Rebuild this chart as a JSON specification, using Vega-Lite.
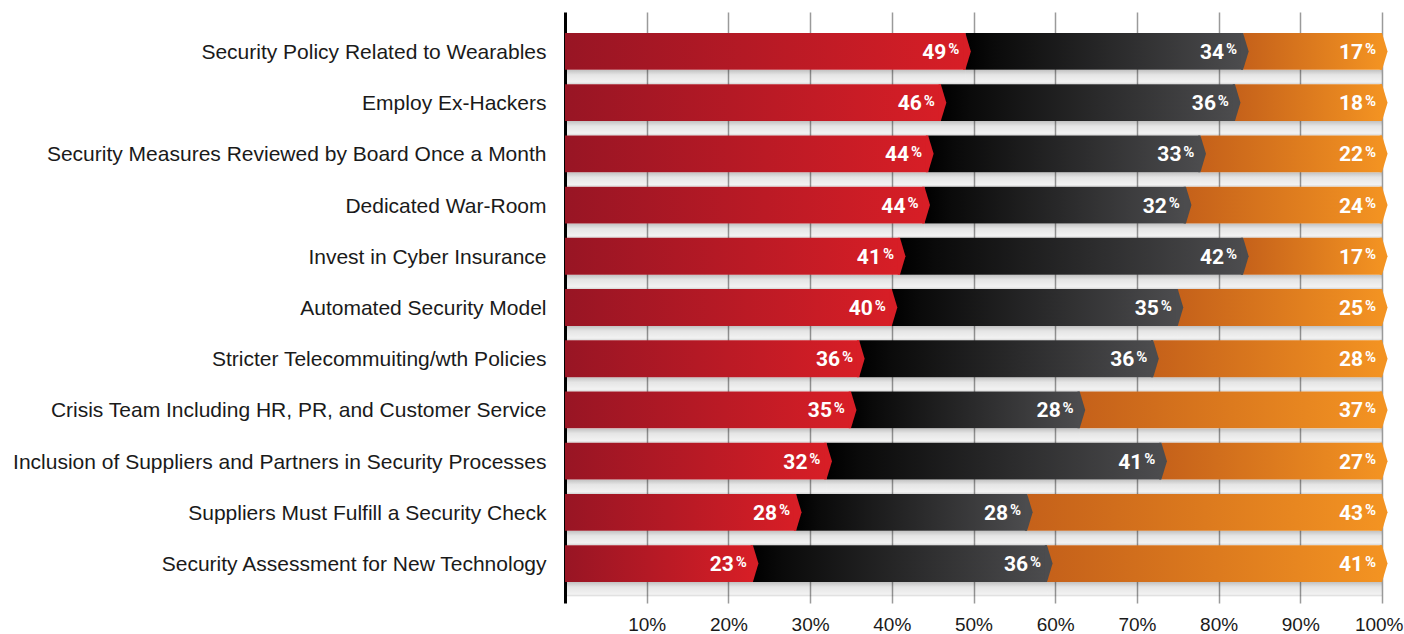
{
  "$schema": "https://vega.github.io/schema/vega-lite/v6.json",
  "width": 817,
  "height": 591,
  "autosize": {"type": "none"},
  "padding": {"left": 565, "top": 12, "right": 22, "bottom": 31},
  "background": "white",
  "config": {"view": {"stroke": null}},
  "data": {
    "values": [
      {"category": "Security Policy Related to Wearables", "segment": "Segment 1", "value": 49},
      {"category": "Security Policy Related to Wearables", "segment": "Segment 2", "value": 34},
      {"category": "Security Policy Related to Wearables", "segment": "Segment 3", "value": 17},
      {"category": "Employ Ex-Hackers", "segment": "Segment 1", "value": 46},
      {"category": "Employ Ex-Hackers", "segment": "Segment 2", "value": 36},
      {"category": "Employ Ex-Hackers", "segment": "Segment 3", "value": 18},
      {"category": "Security Measures Reviewed by Board Once a Month", "segment": "Segment 1", "value": 44},
      {"category": "Security Measures Reviewed by Board Once a Month", "segment": "Segment 2", "value": 33},
      {"category": "Security Measures Reviewed by Board Once a Month", "segment": "Segment 3", "value": 22},
      {"category": "Dedicated War-Room", "segment": "Segment 1", "value": 44},
      {"category": "Dedicated War-Room", "segment": "Segment 2", "value": 32},
      {"category": "Dedicated War-Room", "segment": "Segment 3", "value": 24},
      {"category": "Invest in Cyber Insurance", "segment": "Segment 1", "value": 41},
      {"category": "Invest in Cyber Insurance", "segment": "Segment 2", "value": 42},
      {"category": "Invest in Cyber Insurance", "segment": "Segment 3", "value": 17},
      {"category": "Automated Security Model", "segment": "Segment 1", "value": 40},
      {"category": "Automated Security Model", "segment": "Segment 2", "value": 35},
      {"category": "Automated Security Model", "segment": "Segment 3", "value": 25},
      {"category": "Stricter Telecommuiting/wth Policies", "segment": "Segment 1", "value": 36},
      {"category": "Stricter Telecommuiting/wth Policies", "segment": "Segment 2", "value": 36},
      {"category": "Stricter Telecommuiting/wth Policies", "segment": "Segment 3", "value": 28},
      {"category": "Crisis Team Including HR, PR, and Customer Service", "segment": "Segment 1", "value": 35},
      {"category": "Crisis Team Including HR, PR, and Customer Service", "segment": "Segment 2", "value": 28},
      {"category": "Crisis Team Including HR, PR, and Customer Service", "segment": "Segment 3", "value": 37},
      {"category": "Inclusion of Suppliers and Partners in Security Processes", "segment": "Segment 1", "value": 32},
      {"category": "Inclusion of Suppliers and Partners in Security Processes", "segment": "Segment 2", "value": 41},
      {"category": "Inclusion of Suppliers and Partners in Security Processes", "segment": "Segment 3", "value": 27},
      {"category": "Suppliers Must Fulfill a Security Check", "segment": "Segment 1", "value": 28},
      {"category": "Suppliers Must Fulfill a Security Check", "segment": "Segment 2", "value": 28},
      {"category": "Suppliers Must Fulfill a Security Check", "segment": "Segment 3", "value": 43},
      {"category": "Security Assessment for New Technology", "segment": "Segment 1", "value": 23},
      {"category": "Security Assessment for New Technology", "segment": "Segment 2", "value": 36},
      {"category": "Security Assessment for New Technology", "segment": "Segment 3", "value": 41}
    ]
  },
  "transform": [
    {"stack": "value", "groupby": ["category"], "sort": [{"field": "segment", "order": "ascending"}], "offset": "normalize", "as": ["x0", "x1"]}
  ],
  "encoding": {
    "y": {
      "field": "category",
      "type": "nominal",
      "sort": null,
      "scale": {"paddingInner": 0.28, "paddingOuter": 0.41},
      "axis": {
        "title": null,
        "ticks": false,
        "grid": false,
        "domain": true,
        "domainColor": "#000000",
        "domainWidth": 3,
        "labelPadding": 19,
        "labelLimit": 0,
        "labelFont": "Liberation Sans",
        "labelFontSize": 21,
        "labelColor": "#1a1a1a",
        "labelOffset": 1.5
      }
    }
  },
  "layer": [
    {
      "mark": {
        "type": "bar",
        "height": 14.3,
        "yOffset": 25.6,
        "fill": {
          "gradient": "linear", "x1": 0, "y1": 0, "x2": 0, "y2": 1,
          "stops": [
            {"offset": 0, "color": "rgba(0,0,0,0.24)"},
            {"offset": 0.35, "color": "rgba(0,0,0,0.1)"},
            {"offset": 0.85, "color": "rgba(0,0,0,0.05)"},
            {"offset": 1, "color": "rgba(0,0,0,0.16)"}
          ]
        }
      },
      "encoding": {
        "x": {
          "field": "x0",
          "type": "quantitative",
          "scale": {"domain": [0, 1], "nice": false},
          "axis": {
            "title": null,
            "values": [0.1, 0.2, 0.3, 0.4, 0.5, 0.6, 0.7, 0.8, 0.9, 1],
            "labelExpr": "round(datum.value * 100) + '%'",
            "domain": false,
            "ticks": false,
            "grid": true,
            "gridColor": "#9a9a9a",
            "gridWidth": 1.5,
            "labelPadding": 12,
            "labelFont": "Liberation Sans",
            "labelFontSize": 19,
            "labelColor": "#1a1a1a",
            "labelFlush": true,
            "labelFlushOffset": 21,
            "labelOverlap": false
          }
        },
        "x2": {"field": "x1"}
      }
    },
    {
      "transform": [{"filter": "datum.segment === 'Segment 1'"}],
      "mark": {
        "type": "bar",
        "fill": {
          "gradient": "linear", "x1": 0, "y1": 0, "x2": 1, "y2": 0,
          "stops": [
            {"offset": 0, "color": "#981524"},
            {"offset": 1, "color": "#d71e26"}
          ]
        }
      },
      "encoding": {
        "x": {"field": "x0", "type": "quantitative"},
        "x2": {"field": "x1"}
      }
    },
    {
      "transform": [{"filter": "datum.segment === 'Segment 2'"}],
      "mark": {
        "type": "bar",
        "fill": {
          "gradient": "linear", "x1": 0, "y1": 0, "x2": 1, "y2": 0,
          "stops": [
            {"offset": 0, "color": "#000000"},
            {"offset": 0.1, "color": "#0a0a0a"},
            {"offset": 1, "color": "#4c4c4e"}
          ]
        }
      },
      "encoding": {
        "x": {"field": "x0", "type": "quantitative"},
        "x2": {"field": "x1"}
      }
    },
    {
      "transform": [{"filter": "datum.segment === 'Segment 3'"}],
      "mark": {
        "type": "bar",
        "fill": {
          "gradient": "linear", "x1": 0, "y1": 0, "x2": 1, "y2": 0,
          "stops": [
            {"offset": 0, "color": "#c5611a"},
            {"offset": 1, "color": "#f39322"}
          ]
        }
      },
      "encoding": {
        "x": {"field": "x0", "type": "quantitative"},
        "x2": {"field": "x1"}
      }
    },
    {
      "mark": {
        "type": "point",
        "filled": true,
        "opacity": 1,
        "strokeWidth": 0,
        "size": 1360,
        "shape": "M-0.12,-1L0,-1L0.3,0L0,1L-0.12,1Z"
      },
      "encoding": {
        "x": {"field": "x1", "type": "quantitative"},
        "color": {
          "field": "segment",
          "type": "nominal",
          "scale": {"domain": ["Segment 1", "Segment 2", "Segment 3"], "range": ["#d71e26", "#4c4c4e", "#f39322"]},
          "legend": null
        }
      }
    },
    {
      "mark": {
        "type": "text",
        "align": "right",
        "baseline": "middle",
        "dx": -19,
        "dy": 1.5,
        "font": "Roboto",
        "fontWeight": "bold",
        "fontSize": 21,
        "color": "#ffffff"
      },
      "encoding": {
        "x": {"field": "x1", "type": "quantitative"},
        "text": {"field": "value", "type": "quantitative"}
      }
    },
    {
      "mark": {
        "type": "text",
        "text": "%",
        "align": "right",
        "baseline": "middle",
        "dx": -6,
        "dy": -2,
        "font": "Roboto",
        "fontWeight": "bold",
        "fontSize": 15,
        "color": "#ffffff"
      },
      "encoding": {
        "x": {"field": "x1", "type": "quantitative"}
      }
    }
  ]
}
